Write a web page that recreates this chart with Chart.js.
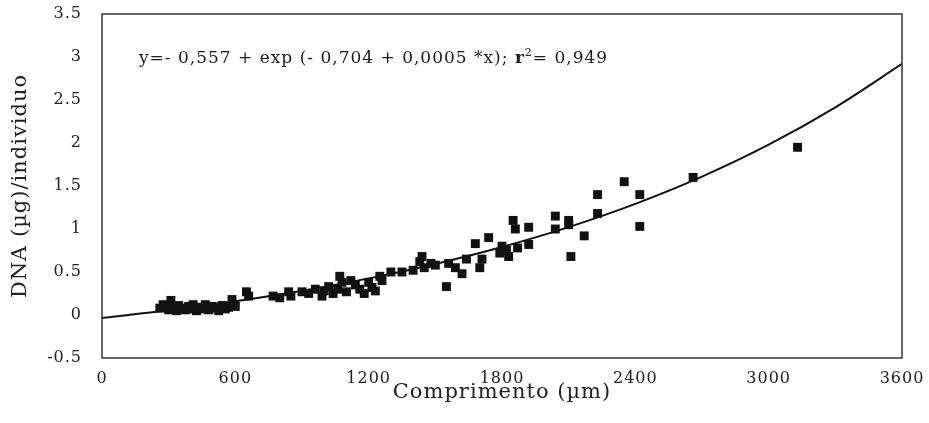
<!DOCTYPE html>
<html>
<head>
<meta charset="utf-8">
<script src="https://cdn.jsdelivr.net/npm/chart.js@4/dist/chart.umd.min.js"></script>
<style>
  html, body { margin: 0; padding: 0; background: #ffffff; }
  #wrap { width: 929px; height: 423px; position: relative; }
</style>
</head>
<body>
<div id="wrap"><canvas id="c" width="929" height="423"></canvas></div>
<script>
// ---- data ----
const lengthUm = [260, 275, 290, 300, 310, 320, 335, 345, 360, 375, 390, 400, 410, 425, 440, 455, 465, 480, 495, 510, 525, 540, 555, 570, 585, 600,
  650, 660, 770, 800, 840, 850, 900, 930, 960, 990, 1000, 1020, 1040, 1060, 1070, 1080, 1100, 1120, 1140, 1160, 1180, 1200, 1215, 1230, 1250, 1260,
  1300, 1350, 1400, 1430, 1440, 1450, 1480, 1500, 1550, 1560, 1590, 1620, 1640, 1680, 1700, 1710, 1740, 1790, 1800, 1820, 1830, 1850, 1860, 1870,
  1920, 1920, 2040, 2040, 2100, 2100, 2110, 2170, 2230, 2230, 2350, 2420, 2420, 2660, 3130];
const dnaUg = [0.08, 0.12, 0.10, 0.06, 0.17, 0.09, 0.05, 0.11, 0.08, 0.06, 0.10, 0.07, 0.12, 0.05, 0.09, 0.07, 0.12, 0.06, 0.10, 0.08, 0.05, 0.11, 0.07, 0.09, 0.18, 0.10,
  0.27, 0.22, 0.22, 0.20, 0.27, 0.22, 0.27, 0.25, 0.30, 0.22, 0.28, 0.33, 0.25, 0.30, 0.45, 0.38, 0.27, 0.40, 0.35, 0.30, 0.25, 0.38, 0.32, 0.28, 0.45, 0.40,
  0.50, 0.50, 0.52, 0.62, 0.68, 0.55, 0.60, 0.58, 0.33, 0.60, 0.55, 0.48, 0.65, 0.83, 0.55, 0.65, 0.90, 0.72, 0.80, 0.75, 0.68, 1.10, 1.00, 0.78,
  0.82, 1.02, 1.15, 1.00, 1.10, 1.05, 0.68, 0.92, 1.40, 1.18, 1.55, 1.40, 1.03, 1.60, 1.95];

// fitted curve, values
const curveX = [0, 300, 600, 900, 1200, 1500, 1800, 2100, 2400, 2700, 3000, 3300, 3600];
const curveY = [-0.035, 0.054, 0.159, 0.282, 0.426, 0.594, 0.791, 1.022, 1.292, 1.609, 1.980, 2.415, 2.920];

const xTicks = [0, 600, 1200, 1800, 2400, 3000, 3600];
const yTicks = [-0.5, 0, 0.5, 1, 1.5, 2, 2.5, 3, 3.5];

const equationText = "y=- 0,557 + exp (- 0,704 + 0,0005 *x); ";
const r2Label = "r";
const r2Value = "= 0,949";
const xTitle = "Comprimento (\u00b5m)";
const yTitle = "DNA (\u00b5g)/individuo";

const SERIF = "'DejaVu Serif', 'Liberation Serif', serif";

const scatterPts = lengthUm.map((x, i) => ({ x: x, y: dnaUg[i] }));
const curvePts = curveX.map((x, i) => ({ x: x, y: curveY[i] }));

const spacingPlugin = {
  id: 'spacing',
  beforeInit(chart) { chart.ctx.letterSpacing = '1px'; },
  beforeUpdate(chart) { chart.ctx.letterSpacing = '1px'; },
  beforeDraw(chart) { chart.ctx.letterSpacing = '1px'; }
};

const framePlugin = {
  id: 'frame',
  afterDraw(chart) {
    const { ctx, chartArea: a } = chart;
    ctx.save();
    ctx.strokeStyle = '#333333';
    ctx.lineWidth = 1.5;
    ctx.strokeRect(a.left, a.top, a.right - a.left, a.bottom - a.top);
    // equation
    ctx.fillStyle = '#1a1a1a';
    ctx.textBaseline = 'alphabetic';
    ctx.letterSpacing = '1px';
    ctx.font = "17px " + SERIF;
    let x = 139, y = 63;
    ctx.fillText(equationText, x, y);
    x += ctx.measureText(equationText).width;
    ctx.font = "bold 17px " + SERIF;
    ctx.fillText(r2Label, x, y);
    x += ctx.measureText(r2Label).width;
    ctx.font = "11px " + SERIF;
    ctx.fillText("2", x, y - 7);
    x += ctx.measureText("2").width;
    ctx.font = "17px " + SERIF;
    ctx.fillText(r2Value, x, y);
    ctx.restore();
  }
};

new Chart(document.getElementById('c'), {
  type: 'scatter',
  data: {
    datasets: [
      {
        type: 'line',
        data: curvePts,
        borderColor: '#111111',
        borderWidth: 2,
        pointRadius: 0,
        fill: false,
        cubicInterpolationMode: 'monotone',
        order: 2
      },
      {
        data: scatterPts,
        pointStyle: 'rect',
        pointRadius: 6.3,
        backgroundColor: '#111111',
        borderColor: '#111111',
        borderWidth: 0,
        order: 1
      }
    ]
  },
  options: {
    responsive: false,
    animation: false,
    devicePixelRatio: 1,
    layout: { padding: { top: 14, right: 27, left: 0, bottom: 0 } },
    plugins: { legend: { display: false }, tooltip: { enabled: false } },
    scales: {
      x: {
        type: 'linear',
        min: 0, max: 3600,
        afterBuildTicks(s) { s.ticks = xTicks.map(v => ({ value: v })); },
        afterFit(s) { s.height = 65; s.paddingLeft = 0; s.paddingRight = 0; },
        grid: { display: false },
        border: { display: false },
        ticks: { color: '#222222', font: { family: SERIF, size: 16 }, padding: 3, maxRotation: 0,
                 callback: v => String(v) },
        title: { display: true, text: xTitle, color: '#222222', font: { family: SERIF, size: 21 }, padding: { top: 0, bottom: 18 } }
      },
      y: {
        type: 'linear',
        min: -0.5, max: 3.5,
        afterBuildTicks(s) { s.ticks = yTicks.map(v => ({ value: v })); },
        afterFit(s) { s.width = 102; s.paddingTop = 0; s.paddingBottom = 0; },
        grid: { display: false },
        border: { display: false },
        ticks: { color: '#222222', font: { family: SERIF, size: 16 }, padding: 12,
                 callback: v => String(v) },
        title: { display: true, text: yTitle, color: '#222222', font: { family: SERIF, size: 21 }, padding: { top: 8, bottom: 0 } }
      }
    }
  },
  plugins: [spacingPlugin, framePlugin]
});
</script>
</body>
</html>
